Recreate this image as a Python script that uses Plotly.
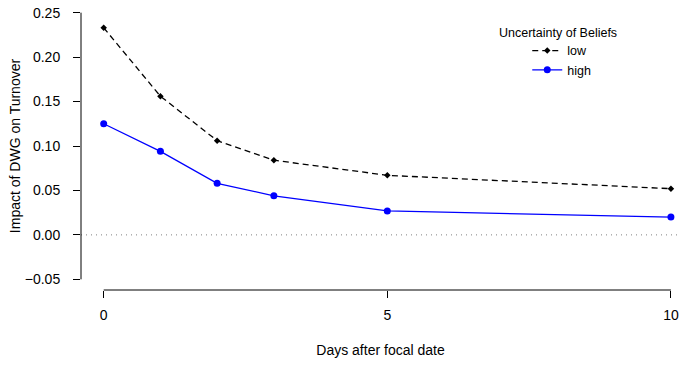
import plotly.graph_objects as go

# Days after the focal date and estimated DWG effect on turnover
days = [0, 1, 2, 3, 5, 10]
impact_low = [0.233, 0.156, 0.106, 0.084, 0.067, 0.052]
impact_high = [0.125, 0.094, 0.058, 0.044, 0.027, 0.020]

x_ticks = [0, 5, 10]
y_ticks = [-0.05, 0.00, 0.05, 0.10, 0.15, 0.20, 0.25]
y_tick_text = ["\u22120.05", "0.00", "0.05", "0.10", "0.15", "0.20", "0.25"]

FONT = "Liberation Sans, Arial, sans-serif"
FS = 14

fig = go.Figure()
fig.add_trace(go.Scatter(
    x=days, y=impact_low, name="low", mode="lines+markers",
    line=dict(color="black", width=1.3, dash="6px,4px"),
    marker=dict(symbol="diamond", size=5, color="black"),
))
fig.add_trace(go.Scatter(
    x=days, y=impact_high, name="high", mode="lines+markers",
    line=dict(color="#0000ff", width=1.3),
    marker=dict(symbol="circle", size=7, color="#0000ff"),
))

# R-style axis lines spanning only the tick range, plus dotted zero reference
fig.add_shape(type="line", xref="paper", yref="y", x0=0, x1=0,
              y0=min(y_ticks), y1=max(y_ticks), line=dict(color="black", width=1))
fig.add_shape(type="line", xref="x", yref="paper", x0=min(x_ticks), x1=max(x_ticks),
              y0=0, y1=0, line=dict(color="black", width=1))
fig.add_shape(type="line", xref="paper", yref="y", x0=0, x1=1, y0=0, y1=0,
              line=dict(color="#808080", width=1, dash="1px,4px"), layer="below")

fig.add_annotation(text="Uncertainty of Beliefs", xref="paper", yref="paper",
                   x=0.796, y=0.893, xanchor="center", yanchor="middle",
                   showarrow=False, font=dict(size=12.5, color="black", family=FONT))

fig.update_layout(
    width=680, height=366,
    margin=dict(l=81, r=0, t=2, b=76),
    paper_bgcolor="white", plot_bgcolor="white",
    font=dict(family=FONT, size=FS, color="black"),
    showlegend=True,
    legend=dict(x=0.745, y=0.882, xanchor="left", yanchor="top",
                bgcolor="rgba(0,0,0,0)", itemwidth=30,
                font=dict(size=12.5, family=FONT)),
    xaxis=dict(range=[-0.4, 10.16], tickvals=x_ticks, showgrid=False, zeroline=False,
               showline=False, ticks="outside", ticklen=7, tickcolor="black",
               ticklabelstandoff=5, tickfont=dict(size=FS),
               title=dict(text="Days after focal date", standoff=23,
                          font=dict(size=FS, family=FONT))),
    yaxis=dict(range=[-0.062, 0.262], tickvals=y_ticks, ticktext=y_tick_text,
               showgrid=False, zeroline=False, showline=False, ticks="outside",
               ticklen=7, tickcolor="black", ticklabelstandoff=10, tickfont=dict(size=FS),
               title=dict(text="Impact of DWG on Turnover", standoff=0,
                          font=dict(size=FS, family=FONT))),
)

fig.write_html("out.html")
